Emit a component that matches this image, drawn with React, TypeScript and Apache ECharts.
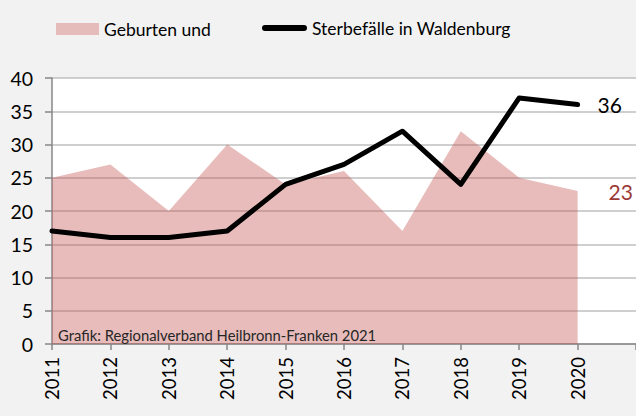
import React, { useEffect, useRef } from "react";
import * as echarts from "echarts";

const years = ["2011", "2012", "2013", "2014", "2015", "2016", "2017", "2018", "2019", "2020", ""];
const births = [25, 27, 20, 30, 24, 26, 17, 32, 25, 23];
const deaths = [17, 16, 16, 17, 24, 27, 32, 24, 37, 36];
const yTicks = { min: 0, max: 40, interval: 5 };
const birthsName = "Geburten und";
const deathsName = "Sterbefälle in Waldenburg";
const sourceText = "Grafik: Regionalverband Heilbronn-Franken 2021";

const FONT = "Lato";

export default function App() {
  const ref = useRef<HTMLDivElement>(null);
  useEffect(() => {
    if (!ref.current) return;
    const chart = echarts.init(ref.current, null, { renderer: "svg" });
    chart.setOption({
      animation: false,
      backgroundColor: "#f2f2f2",
      textStyle: { fontFamily: FONT },
      legend: [
        {
          data: [{ name: birthsName, icon: "rect" }],
          left: 56,
          top: 20,
          padding: 0,
          itemWidth: 43,
          itemHeight: 12,
          itemGap: 4,
          textStyle: { fontSize: 17.5, color: "#000", fontFamily: FONT },
        },
        {
          data: [
            {
              name: deathsName,
              icon: "path://M3,0 H42 A3,3 0 0 1 42,6 H3 A3,3 0 0 1 3,0 Z",
              itemStyle: { color: "#000" },
            },
          ],
          left: 262,
          top: 19,
          padding: 0,
          itemWidth: 45,
          itemHeight: 6,
          itemGap: 4,
          textStyle: { fontSize: 17.5, color: "#000", fontFamily: FONT },
        },
      ],
      grid: {
        left: 52,
        top: 78,
        width: 589,
        height: 266,
        show: true,
        backgroundColor: "#ffffff",
        borderWidth: 0,
        containLabel: false,
      },
      xAxis: {
        type: "category",
        data: years,
        boundaryGap: false,
        axisLine: { lineStyle: { color: "#878787", width: 1.5 } },
        axisTick: { show: true, length: 6, lineStyle: { color: "#878787", width: 1.5 } },
        axisLabel: {
          rotate: 90,
          margin: 13,
          fontSize: 18.5,
          color: "#000",
          fontFamily: FONT,
          interval: 0,
        },
        splitLine: { show: false },
      },
      yAxis: {
        type: "value",
        min: yTicks.min,
        max: yTicks.max,
        interval: yTicks.interval,
        axisLine: { show: true, lineStyle: { color: "#878787", width: 1.5 } },
        axisTick: { show: true, length: 7, lineStyle: { color: "#878787", width: 1.5 } },
        axisLabel: { margin: 19, fontSize: 19.5, color: "#000", fontFamily: FONT },
        splitLine: { lineStyle: { color: "#bfbfbf", width: 1.5 } },
      },
      series: [
        {
          name: birthsName,
          type: "line",
          data: births,
          symbol: "none",
          itemStyle: { color: "#e6bcbb" },
          lineStyle: { width: 0, opacity: 0 },
          areaStyle: { color: "rgba(192,80,77,0.38)", opacity: 1 },
          endLabel: {
            show: true,
            formatter: "{c}",
            distance: 31,
            fontSize: 21,
            color: "#9b3a37",
            fontFamily: FONT,
          },
          z: 2,
        },
        {
          name: deathsName,
          type: "line",
          data: deaths,
          symbol: "none",
          itemStyle: { color: "#000" },
          lineStyle: { width: 5, color: "#000", cap: "round", join: "round" },
          endLabel: {
            show: true,
            formatter: "{c}",
            distance: 20,
            fontSize: 21,
            color: "#000",
            fontFamily: FONT,
          },
          z: 3,
        },
      ],
      graphic: [
        {
          type: "text",
          left: 58,
          top: 327,
          style: { text: sourceText, fontSize: 14.8, fill: "#262626", fontFamily: FONT },
          z: 10,
        },
      ],
    });
    return () => chart.dispose();
  }, []);
  return <div ref={ref} style={{ position: "absolute", left: 0, top: 0, width: 636, height: 416 }} />;
}
